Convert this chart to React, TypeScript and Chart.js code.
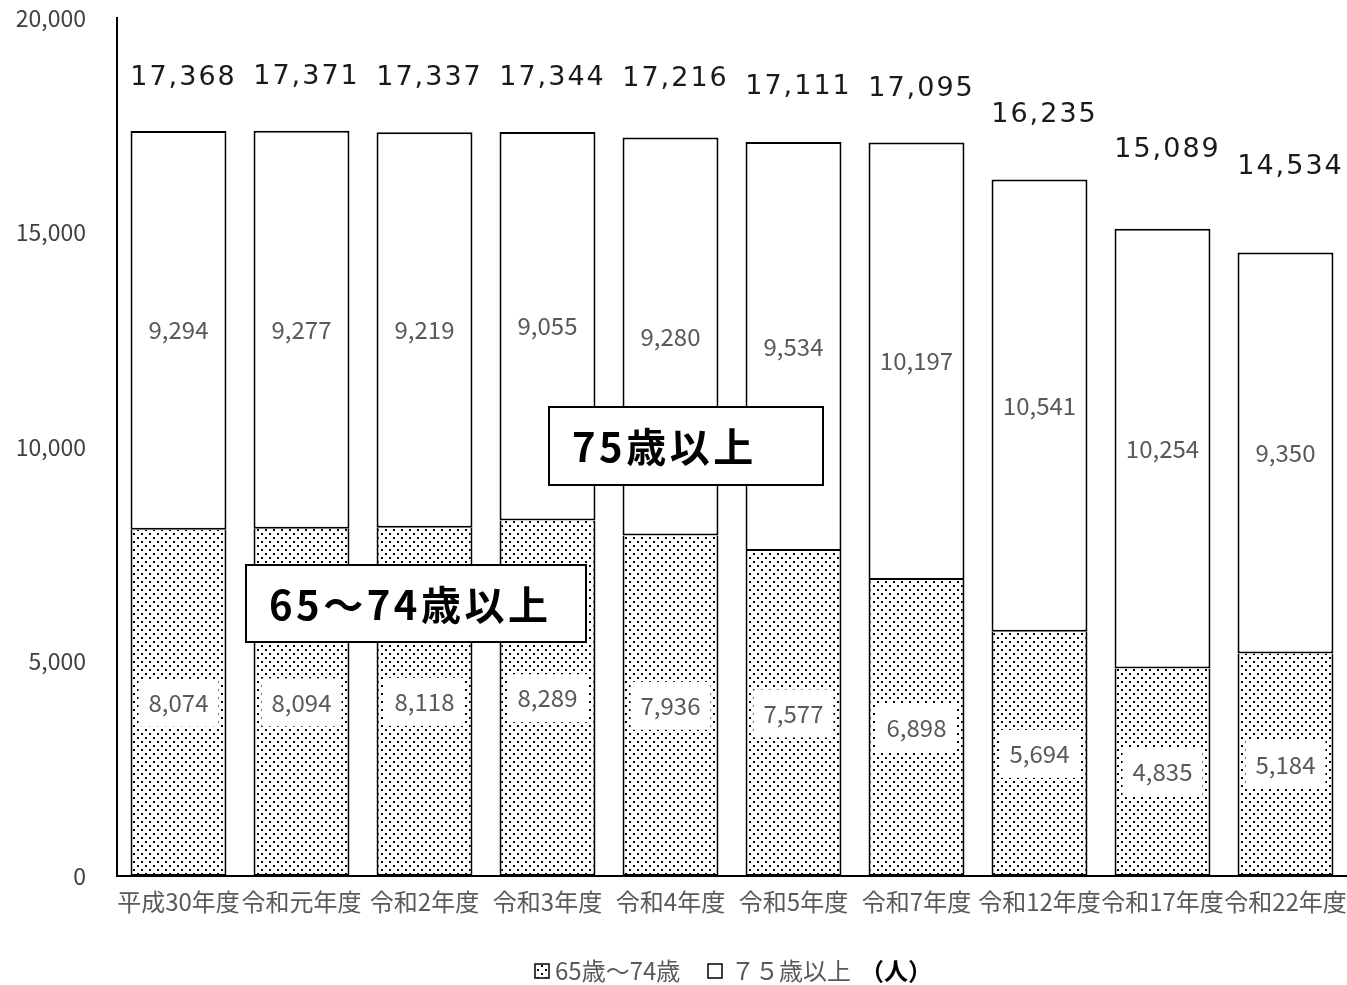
import React, { useEffect, useRef } from "react";
import { Chart, registerables } from "chart.js";

Chart.register(...registerables);

const categories = ["平成30年度", "令和元年度", "令和2年度", "令和3年度", "令和4年度", "令和5年度", "令和7年度", "令和12年度", "令和17年度", "令和22年度"];
const age65to74 = [8074, 8094, 8118, 8289, 7936, 7577, 6898, 5694, 4835, 5184];
const age75plus = [9294, 9277, 9219, 9055, 9280, 9534, 10197, 10541, 10254, 9350];
const totals = [17368, 17371, 17337, 17344, 17216, 17111, 17095, 16235, 15089, 14534];
const yTicks = [0, 5000, 10000, 15000, 20000];
const seriesNames = ["65歳〜74歳", "７５歳以上"];
const unitLabel = "（人）";
const boxLabels = ["75歳以上", "65〜74歳以上"];

// extra pixel lift of each total label above its bar top (labels were hand placed in the original)
const totalLift = [53, 54, 54, 54, 58, 55, 54, 65, 79, 86];

const JP = '"Noto Sans CJK JP", "Noto Sans", sans-serif';

function makeDots(): CanvasPattern | string {
  const c = document.createElement("canvas");
  c.width = 8;
  c.height = 8;
  const g = c.getContext("2d");
  if (!g) return "#ccc";
  g.fillStyle = "#fff";
  g.fillRect(0, 0, 8, 8);
  g.fillStyle = "#000";
  g.fillRect(1, 1, 2, 2);
  g.fillRect(5, 5, 2, 2);
  const p = g.createPattern(c, "repeat");
  return p || "#ccc";
}

const fmt = (v: number) => v.toLocaleString("en-US");

export default function App() {
  const ref = useRef<HTMLCanvasElement>(null);

  useEffect(() => {
    if (!ref.current) return;
    const dots = makeDots();

    const labelsPlugin = {
      id: "customLabels",
      afterDatasetsDraw(chart: any) {
        const ctx = chart.ctx as CanvasRenderingContext2D;
        ctx.save();
        // segment labels
        ctx.font = `24px ${JP}`;
        ctx.textAlign = "center";
        ctx.textBaseline = "middle";
        chart.data.datasets.forEach((ds: any, di: number) => {
          const meta = chart.getDatasetMeta(di);
          meta.data.forEach((bar: any, i: number) => {
            const cy = (bar.y + bar.base) / 2;
            const txt = fmt(ds.data[i]);
            if (di === 0) {
              const w = ctx.measureText(txt).width + 20;
              ctx.fillStyle = "#fff";
              ctx.fillRect(bar.x - w / 2, cy - 24, w, 48);
            }
            ctx.fillStyle = "#595959";
            ctx.fillText(txt, bar.x, cy);
          });
        });
        // totals
        const topMeta = chart.getDatasetMeta(1);
        ctx.font = `27px "DejaVu Sans", sans-serif`;
        (ctx as any).letterSpacing = "2px";
        ctx.fillStyle = "#1a1a1a";
        topMeta.data.forEach((bar: any, i: number) => {
          ctx.fillText(fmt(totals[i]), bar.x + 5, bar.y - totalLift[i]);
        });

        // annotation boxes
        const boxes = [
          { t: boxLabels[0], x: 549, y: 407, w: 274, h: 78 },
          { t: boxLabels[1], x: 246, y: 565, w: 340, h: 77 },
        ];
        boxes.forEach((b) => {
          ctx.fillStyle = "#fff";
          ctx.fillRect(b.x, b.y, b.w, b.h);
          ctx.strokeStyle = "#000";
          ctx.lineWidth = 2;
          ctx.strokeRect(b.x, b.y, b.w, b.h);
          ctx.fillStyle = "#000";
          ctx.font = `bold 40px ${JP}`;
          (ctx as any).letterSpacing = "3.5px";
          ctx.textAlign = "left";
          ctx.textBaseline = "middle";
          ctx.fillText(b.t, b.x + 23, b.y + b.h / 2 + 1);
        });
        (ctx as any).letterSpacing = "0px";

        // legend
        const ly = 971;
        ctx.lineWidth = 1.5;
        ctx.strokeStyle = "#000";
        ctx.fillStyle = dots as any;
        ctx.fillRect(535, ly - 7, 14, 14);
        ctx.strokeRect(535, ly - 7, 14, 14);
        ctx.fillStyle = "#fff";
        ctx.fillRect(708, ly - 7, 14, 14);
        ctx.strokeRect(708, ly - 7, 14, 14);
        ctx.font = `24px ${JP}`;
        ctx.textAlign = "left";
        ctx.textBaseline = "middle";
        ctx.fillStyle = "#595959";
        ctx.fillText(seriesNames[0], 555, ly);
        ctx.fillText(seriesNames[1], 731, ly);
        ctx.font = `bold 24px ${JP}`;
        ctx.fillStyle = "#000";
        ctx.fillText(unitLabel, 860, ly);
        ctx.restore();
      },
    };

    const chart = new Chart(ref.current, {
      type: "bar",
      data: {
        labels: categories,
        datasets: [
          {
            label: seriesNames[0],
            data: age65to74,
            backgroundColor: dots as any,
            borderColor: "#000",
            borderWidth: 2,
            borderSkipped: "top",
          },
          {
            label: seriesNames[1],
            data: age75plus,
            backgroundColor: "#fff",
            borderColor: "#000",
            borderWidth: 2,
            borderSkipped: false,
          },
        ],
      },
      options: {
        responsive: false,
        animation: false,
        layout: { padding: { top: 18, left: 0, right: 0, bottom: 0 } },
        plugins: { legend: { display: false }, tooltip: { enabled: false } },
        datasets: { bar: { categoryPercentage: 1, barPercentage: 0.78 } },
        scales: {
          x: {
            stacked: true,
            grid: { display: false, drawTicks: false },
            border: { display: true, color: "#000", width: 2 },
            ticks: { color: "#595959", font: { family: JP, size: 24 }, padding: 11, maxRotation: 0, autoSkip: false },
            afterFit: (s: any) => {
              s.height = 109;
              s.paddingLeft = 0;
              s.paddingRight = 0;
            },
          },
          y: {
            stacked: true,
            min: 0,
            max: 20000,
            grid: { display: false, drawTicks: false },
            border: { display: true, color: "#000", width: 2 },
            afterBuildTicks: (s: any) => {
              s.ticks = yTicks.map((v) => ({ value: v }));
            },
            ticks: {
              color: "#404040",
              font: { family: JP, size: 23 },
              padding: 31,
              callback: (v: any) => fmt(Number(v)),
            },
            afterFit: (s: any) => {
              s.width = 117;
              s.paddingTop = 0;
              s.paddingBottom = 0;
            },
          },
        },
      },
      plugins: [labelsPlugin],
    });
    return () => chart.destroy();
  }, []);

  return (
    <div style={{ position: "absolute", left: 0, top: 0, width: 1347, height: 985, background: "#fff" }}>
      <canvas ref={ref} width={1347} height={985} />
    </div>
  );
}
